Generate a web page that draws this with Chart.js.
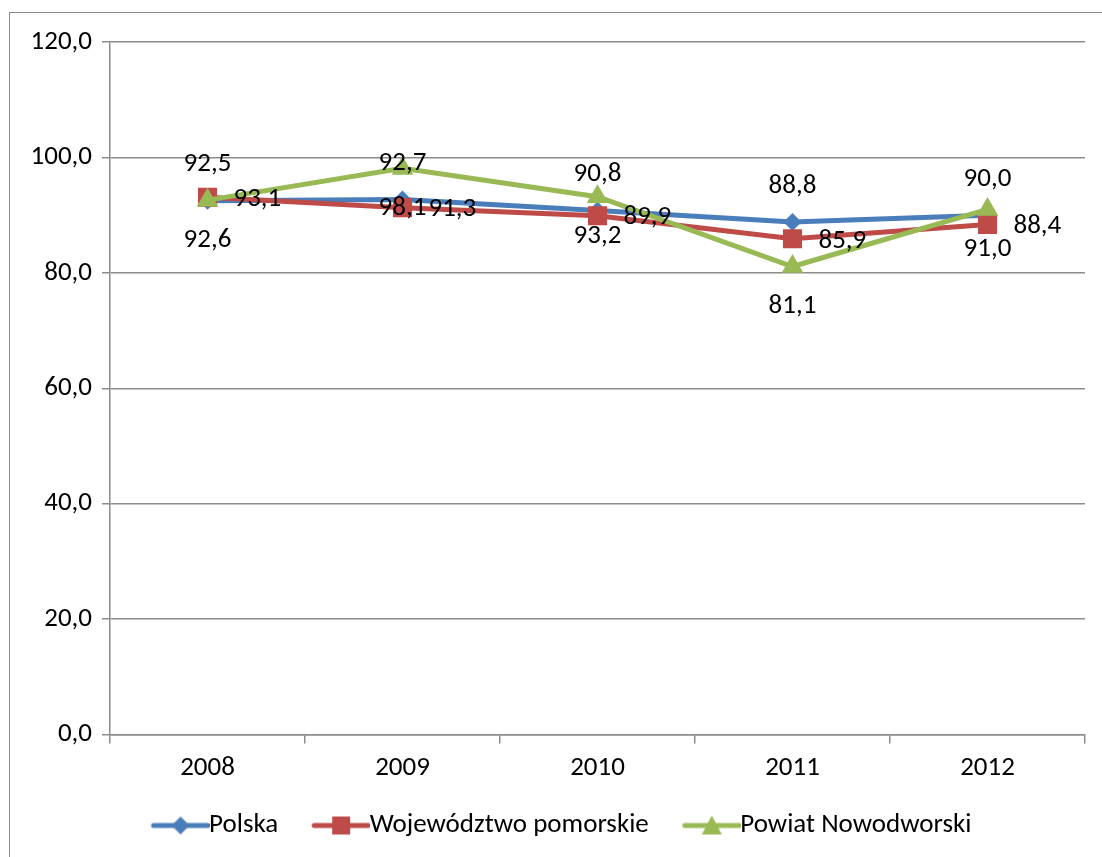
<!DOCTYPE html>
<html>
<head>
<meta charset="utf-8">
<script src="https://cdn.jsdelivr.net/npm/chart.js@4.4.7/dist/chart.umd.min.js"></script>
<style>
  html, body { margin: 0; padding: 0; background: #fff; }
  #wrap { position: relative; width: 1102px; height: 857px; }
  #frame { position: absolute; left: 9px; top: 12px; width: 1100px; height: 860px;
           border: 1.5px solid #8c8c8c; box-sizing: border-box; }
  canvas { position: absolute; left: 0; top: 0; }
</style>
</head>
<body>
<div id="wrap">
  <div id="frame"></div>
  <canvas id="c" width="1102" height="857"></canvas>
</div>
<script>
const years = ['2008', '2009', '2010', '2011', '2012'];
const polska = [92.5, 92.7, 90.8, 88.8, 90.0];
const pomorskie = [93.1, 91.3, 89.9, 85.9, 88.4];
const nowodworski = [92.6, 98.1, 93.2, 81.1, 91.0];
const yTicks = [0, 20, 40, 60, 80, 100, 120];

const FONT = 'Carlito, Lato, "Open Sans", sans-serif';
const FS = 27;

function fmt(v) {
  return v.toFixed(1).replace('.', ',');
}

// legend symbol: line + marker, drawn in the right part of a wider canvas
// so it sits right next to the label text
function legendIcon(color, shape) {
  const c = document.createElement('canvas');
  c.width = 86; c.height = 24;
  const g = c.getContext('2d');
  const x0 = 30, x1 = 84, mx = 57;
  g.strokeStyle = color;
  g.fillStyle = color;
  g.lineWidth = 5;
  g.lineCap = 'round';
  g.beginPath(); g.moveTo(x0, 12); g.lineTo(x1, 12); g.stroke();
  g.beginPath();
  if (shape === 'diamond') {
    g.moveTo(mx, 3); g.lineTo(mx + 9, 12); g.lineTo(mx, 21); g.lineTo(mx - 9, 12);
  } else if (shape === 'square') {
    g.rect(mx - 9, 3, 18, 18);
  } else {
    g.moveTo(mx, 2); g.lineTo(mx + 10, 21); g.lineTo(mx - 10, 21);
  }
  g.closePath(); g.fill();
  return c;
}

const series = [
  { label: 'Polska', data: polska, color: '#4a7ebb', style: 'rectRot', radius: 9, icon: 'diamond', pos: 'above', order: 3 },
  { label: 'Województwo pomorskie', data: pomorskie, color: '#be4b48', style: 'rect', radius: 13.5, icon: 'square', pos: 'right', order: 2 },
  { label: 'Powiat Nowodworski', data: nowodworski, color: '#98b954', style: 'triangle', radius: 12.5, icon: 'triangle', pos: 'below', order: 1 }
];

const labelPlugin = {
  id: 'pointLabels',
  afterLayout(chart) {
    // nudge the legend a bit right, as in the original
    chart.legend.left += 12;
    chart.legend.right += 12;
  },
  afterDatasetsDraw(chart) {
    const ctx = chart.ctx;
    ctx.save();
    ctx.font = FS + 'px ' + FONT;
    ctx.fillStyle = '#000';
    chart.data.datasets.forEach((ds, i) => {
      const meta = chart.getDatasetMeta(i);
      meta.data.forEach((pt, j) => {
        const txt = fmt(ds.data[j]);
        if (ds.labelPos === 'above') {
          ctx.textAlign = 'center'; ctx.textBaseline = 'middle';
          ctx.fillText(txt, pt.x, pt.y - 36);
        } else if (ds.labelPos === 'below') {
          ctx.textAlign = 'center'; ctx.textBaseline = 'middle';
          ctx.fillText(txt, pt.x, pt.y + 40);
        } else {
          ctx.textAlign = 'left'; ctx.textBaseline = 'middle';
          ctx.fillText(txt, pt.x + 26, pt.y + 2);
        }
      });
    });
    ctx.restore();
  }
};

new Chart(document.getElementById('c'), {
  type: 'line',
  data: {
    labels: years,
    datasets: series.map(s => ({
      label: s.label,
      data: s.data,
      borderColor: s.color,
      backgroundColor: s.color,
      borderWidth: 5,
      pointStyle: s.style,
      pointRadius: s.radius,
      pointBorderWidth: 0,
      pointBackgroundColor: s.color,
      tension: 0,
      order: s.order,
      labelPos: s.pos,
      icon: legendIcon(s.color, s.icon)
    }))
  },
  options: {
    responsive: false,
    animation: false,
    layout: { padding: { left: 0, right: 17, top: 42, bottom: 8 } },
    plugins: {
      tooltip: { enabled: false },
      legend: {
        position: 'bottom',
        labels: {
          usePointStyle: true,
          pointStyleWidth: 58,
          boxHeight: 24,
          padding: 20,
          font: { size: FS, family: FONT },
          color: '#000',
          generateLabels(chart) {
            return chart.data.datasets.map((ds, i) => ({
              text: ds.label,
              pointStyle: ds.icon,
              fillStyle: ds.borderColor,
              strokeStyle: ds.borderColor,
              lineWidth: 0,
              fontColor: '#000',
              hidden: false,
              datasetIndex: i
            }));
          }
        }
      }
    },
    scales: {
      x: {
        offset: true,
        grid: { offset: true, drawOnChartArea: false, color: '#8c8c8c', tickLength: 9, lineWidth: 1.5 },
        border: { color: '#8c8c8c', width: 1.5 },
        ticks: { font: { size: FS, family: FONT }, color: '#000', padding: 8 }
      },
      y: {
        min: 0, max: 120,
        afterBuildTicks(scale) { scale.ticks = yTicks.map(v => ({ value: v })); },
        afterFit(scale) { scale.width = 110; },
        grid: { color: '#8c8c8c', tickLength: 8, lineWidth: 1.5 },
        border: { color: '#8c8c8c', width: 1.5 },
        ticks: {
          font: { size: FS, family: FONT }, color: '#000', padding: 10,
          callback: v => fmt(v)
        }
      }
    }
  },
  plugins: [labelPlugin]
});
</script>
</body>
</html>
